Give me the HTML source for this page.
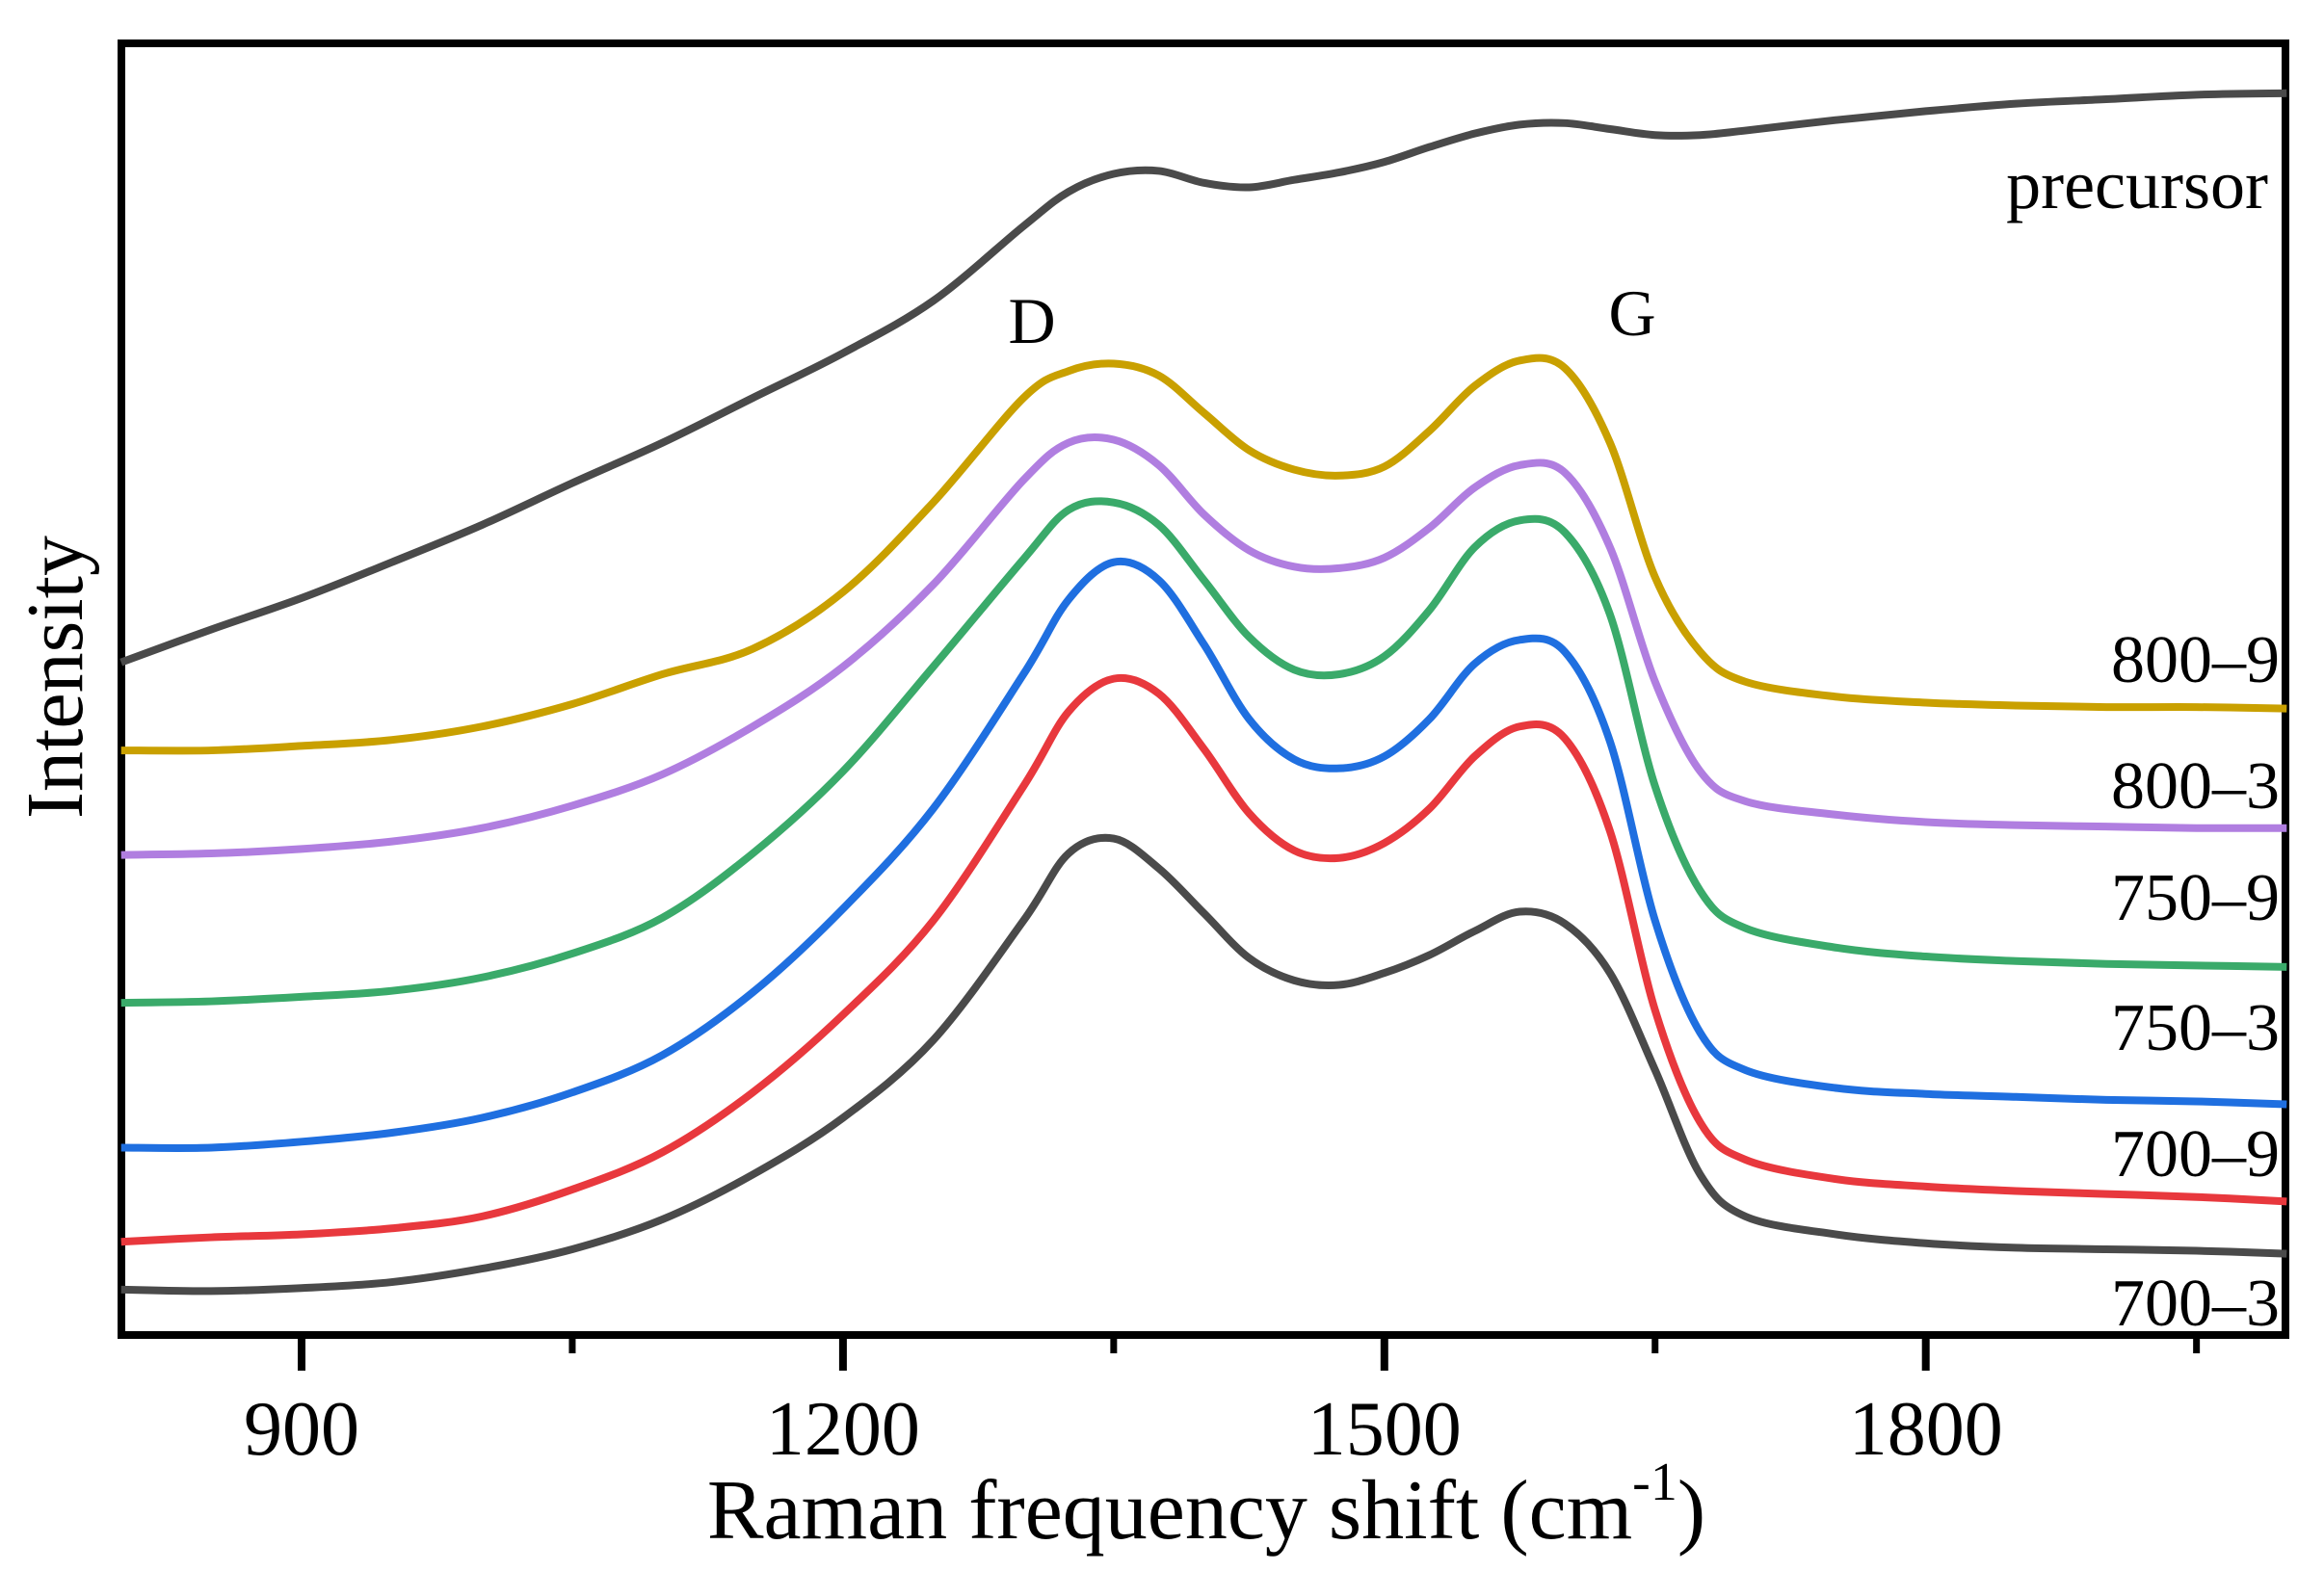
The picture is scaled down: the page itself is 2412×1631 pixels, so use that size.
<!DOCTYPE html>
<html><head><meta charset="utf-8"><style>
html,body{margin:0;padding:0;background:#fff;}
svg{display:block;font-family:"Liberation Serif",serif;}
</style></head><body>
<svg id="chart" width="2412" height="1631" viewBox="0 0 2412 1631">
<rect x="126" y="45" width="2246" height="1341" fill="none" stroke="#000" stroke-width="8"/>
<g id="ticks"></g>
<g id="series"></g>
<text x="1252" y="1597" font-size="88" text-anchor="middle">Raman frequency shift (cm<tspan font-size="56" dy="-40">-1</tspan><tspan dy="40">)</tspan></text>
<text transform="translate(85,703) rotate(-90)" font-size="84" text-anchor="middle">Intensity</text>
<text x="1071" y="356" font-size="68" text-anchor="middle">D</text>
<text x="1694" y="348" font-size="68" text-anchor="middle">G</text>
</svg>
<script>
const xs=[800,850,900,950,1000,1050,1100,1150,1200,1250,1300,1325,1350,1375,1400,1425,1450,1475,1500,1525,1550,1575,1600,1625,1650,1675,1700,1750,1800,1850,1900,1950,2000];
const s7003=[33,32,34,38,47,60,80,110,148,200,280,325,335,315,285,255,240,237,245,257,273,286,278,245,180,110,82,70,64,61,60,59,57];
const s7009=[65,68,70,74,82,100,125,165,217,280,370,420,442,432,395,352,327,322,332,355,390,410,402,340,220,145,120,107,102,99,97,95,92];
const s7503=[128,128,132,138,148,165,190,232,288,355,445,495,520,508,465,415,388,382,390,415,452,468,460,400,280,205,180,168,164,162,160,159,157];
const s7509=[225,226,229,233,242,258,282,325,380,450,522,555,560,545,508,470,448,445,457,488,530,548,540,485,370,300,275,262,256,253,251,250,249];
const s8003=[324,325,328,333,342,357,378,410,450,505,575,600,602,585,552,528,517,516,523,543,570,585,580,530,440,380,360,351,346,344,343,342,342];
const s8009=[394,394,397,401,410,425,445,462,500,560,630,648,653,645,620,595,582,578,584,608,638,655,650,600,510,460,440,430,426,424,423,423,422];
const sPrec=[453,475,496,520,545,573,600,630,660,695,745,768,780,782,774,771,776,781,788,798,807,813,814,810,806,806,809,816,822,827,830,833,834];
const seriesNames=["700–3","700–9","750–3","750–9","800–3","800–9","precursor"];
const majorTicks=[900,1200,1500,1800];
const minorTicks=[1050,1350,1650,1950];

const NS="http://www.w3.org/2000/svg";
function X(v){return 313+(v-900)*1.873;}
function Y(v){return 1390-v*1.5506;}
const tg=document.getElementById('ticks');
majorTicks.forEach(t=>{
  const l=document.createElementNS(NS,'line');
  l.setAttribute('x1',X(t));l.setAttribute('x2',X(t));l.setAttribute('y1',1390);l.setAttribute('y2',1423);
  l.setAttribute('stroke','#000');l.setAttribute('stroke-width','8');
  
  
  tg.appendChild(l);
  const tx=document.createElementNS(NS,'text');
  tx.setAttribute('x',X(t));tx.setAttribute('y',1510);tx.setAttribute('font-size','80');tx.setAttribute('text-anchor','middle');
  tx.textContent=t;
  
  
  tg.appendChild(tx);
});
minorTicks.forEach(t=>{
  const l=document.createElementNS(NS,'line');
  l.setAttribute('x1',X(t));l.setAttribute('x2',X(t));l.setAttribute('y1',1390);l.setAttribute('y2',1405);
  l.setAttribute('stroke','#000');l.setAttribute('stroke-width','7');
  
  
  tg.appendChild(l);
});
const data=[s7003,s7009,s7503,s7509,s8003,s8009,sPrec];
const colors=["#4a4a4a","#e8383d","#1f6fe0","#3aaa6a","#b07ee0","#c9a000","#4a4a4a"];
const labelY=[1376,1221,1090,955,839,708,216];
const labelX=[2366,2366,2366,2366,2366,2366,2354];
const sg=document.getElementById('series');
function smooth(pts){
  let d='M'+pts[0][0]+','+pts[0][1];
  for(let i=0;i<pts.length-1;i++){
    const p0=pts[Math.max(0,i-1)],p1=pts[i],p2=pts[i+1],p3=pts[Math.min(pts.length-1,i+2)];
    const c1x=p1[0]+(p2[0]-p0[0])/6,c1y=p1[1]+(p2[1]-p0[1])/6;
    const c2x=p2[0]-(p3[0]-p1[0])/6,c2y=p2[1]-(p3[1]-p1[1])/6;
    d+=' C'+c1x+','+c1y+' '+c2x+','+c2y+' '+p2[0]+','+p2[1];
  }
  return d;
}
data.forEach((arr,k)=>{
  const pts=arr.map((v,i)=>[X(xs[i]),Y(v)]);
  const p=document.createElementNS(NS,'path');
  p.setAttribute('d',smooth(pts));
  p.setAttribute('fill','none');p.setAttribute('stroke',colors[k]);p.setAttribute('stroke-width','8');
  p.setAttribute('stroke-linejoin','round');
  
  
  sg.appendChild(p);
  const t=document.createElementNS(NS,'text');
  t.setAttribute('x',labelX[k]);t.setAttribute('y',labelY[k]);t.setAttribute('font-size',k==6?'72':'70');t.setAttribute('text-anchor','end');
  t.textContent=seriesNames[k];
  
  
  sg.appendChild(t);
});
</script>
</body></html>
